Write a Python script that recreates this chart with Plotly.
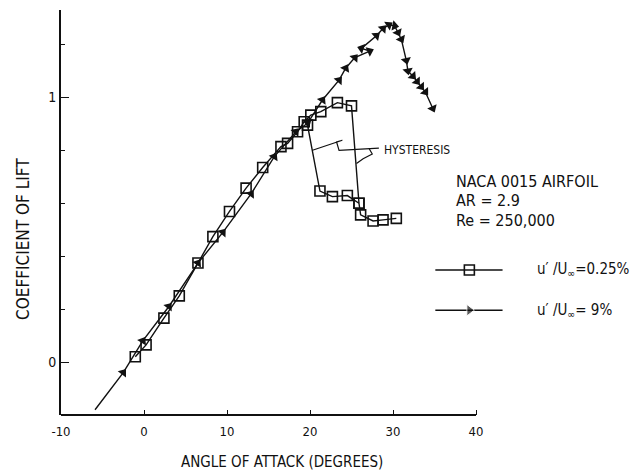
import plotly.graph_objects as go

# Lift curves, NACA 0015 airfoil, AR = 2.9, Re = 250,000
# Low-turbulence run (u'/U = 0.25 %): increasing angle, then the return branch after a gap
alpha_low = [-1.05, 0.25, 2.4, 4.25, 6.5, 8.3, 10.3, 12.3, 14.3, 16.5, 17.3, 18.5, 19.3,
             20.1, 21.3, 23.3, 25.0, 25.9, 26.1, 27.6, 28.8, 30.4,
             None, 25.9, 24.5, 22.7, 21.2, 19.7]
cl_low = [0.02, 0.065, 0.166, 0.25, 0.374, 0.474, 0.569, 0.657, 0.735, 0.814, 0.826, 0.87, 0.908,
          0.933, 0.946, 0.98, 0.968, 0.60, 0.556, 0.533, 0.537, 0.543,
          None, 0.60, 0.629, 0.625, 0.646, 0.895]

# High-turbulence run (u'/U = 9 %)
alpha_high = [-5.9, -2.5, -0.15, 3.0, 6.5, 9.5, 12.9, 15.7, 18.3, 19.7, 21.5, 23.5, 24.3,
              25.4, 27.2, 26.2, 28.0, 28.8, 29.5, 30.2, 30.6, 31.0, 31.6, 31.8, 32.4,
              32.9, 33.4, 33.9, 34.8]
cl_high = [-0.18, -0.04, 0.08, 0.21, 0.374, 0.49, 0.635, 0.776, 0.87, 0.902, 0.99, 1.065, 1.11,
           1.15, 1.175, 1.185, 1.233, 1.26, 1.274, 1.27, 1.245, 1.22, 1.14, 1.10, 1.08,
           1.06, 1.04, 1.02, 0.958]

x_ticks = [-10, 0, 10, 20, 30, 40]
x_tick_text = ["-10", "0", "10", "20", "30", "40"]
y_ticks = [0, 1]
y_tick_text = ["0", "1"]
y_minor_ticks = [-0.2, 0.2, 0.4, 0.6, 0.8, 1.2]

legend_labels = ["u\u2032 /U<sub>\u221e</sub>=0.25%", "u\u2032 /U<sub>\u221e</sub>= 9%"]
info_lines = ["NACA 0015 AIRFOIL", "AR = 2.9", "Re = 250,000"]

# layout geometry
W, H = 634, 473
ML, MR, MT, MB = 61, 10, 10, 58
PX_PER_DEG = 8.3
PX_PER_CL = 264.7
plot_w = W - ML - MR
plot_h = H - MT - MB
x_range = [-10, -10 + plot_w / PX_PER_DEG]
y_range = [-0.2, -0.2 + plot_h / PX_PER_CL]

FONT = "Liberation Sans Narrow, DejaVu Sans Condensed, Liberation Sans, Arial"
INK = "#111111"

fig = go.Figure()

fig.add_trace(go.Scatter(
    x=alpha_low, y=cl_low, mode="lines+markers",
    line=dict(color=INK, width=1.4),
    marker=dict(symbol="square-open", size=10, color=INK, line=dict(width=1.6)),
    showlegend=False, cliponaxis=False,
))
fig.add_trace(go.Scatter(
    x=alpha_high, y=cl_high, mode="lines+markers",
    line=dict(color=INK, width=1.4),
    marker=dict(symbol="triangle-up", size=9, color=INK, angleref="previous",
                line=dict(width=0)),
    showlegend=False, cliponaxis=False,
))

# legend samples drawn beside the curves
leg_x0, leg_x1, leg_mid = 35.1, 43.2, 39.2
leg_y = [0.348, 0.196]
fig.add_trace(go.Scatter(
    x=[leg_x0, leg_x1], y=[leg_y[0]] * 2, mode="lines",
    line=dict(color=INK, width=1.4), showlegend=False, hoverinfo="skip"))
fig.add_trace(go.Scatter(
    x=[leg_mid], y=[leg_y[0]], mode="markers",
    marker=dict(symbol="square-open", size=10, color=INK, line=dict(width=1.6)),
    showlegend=False, hoverinfo="skip"))
fig.add_trace(go.Scatter(
    x=[leg_x0, leg_mid, leg_x1], y=[leg_y[1]] * 3, mode="lines+markers",
    line=dict(color=INK, width=1.4),
    marker=dict(symbol="triangle-right", size=[0, 10, 0], color=INK),
    showlegend=False, hoverinfo="skip"))

annotations = []
for label, yv in zip(legend_labels, leg_y):
    annotations.append(dict(x=47.1, y=yv, xref="x", yref="y", text=label, showarrow=False,
                            xanchor="left", yanchor="middle",
                            font=dict(family=FONT, size=15, color=INK)))
for i, line in enumerate(info_lines):
    annotations.append(dict(x=37.4, y=0.684 - i * 0.074, xref="x", yref="y", text=line,
                            showarrow=False, xanchor="left", yanchor="middle",
                            font=dict(family=FONT, size=16, color=INK)))
annotations.append(dict(x=28.7, y=0.80, xref="x", yref="y", text="HYSTERESIS",
                        showarrow=False, xanchor="left", yanchor="middle",
                        font=dict(family=FONT, size=12, color=INK)))
annotations.append(dict(x=16.6, y=-0.116, xref="x", yref="paper",
                        text="ANGLE OF ATTACK (DEGREES)", showarrow=False,
                        xanchor="center", yanchor="middle",
                        font=dict(family=FONT, size=15, color=INK)))
annotations.append(dict(x=-0.0675, y=0.465, xref="paper", yref="y",
                        text="COEFFICIENT OF LIFT", showarrow=False, textangle=-90,
                        xanchor="center", yanchor="middle",
                        font=dict(family=FONT, size=17, color=INK)))

# hysteresis leader lines: a squiggle from the label to both jump lines
leader_left = "M 20.3,0.80 L 23.9,0.838 L 23.2,0.832 L 23.5,0.80 L 28.3,0.808"
leader_right = "M 27.1,0.808 L 27.5,0.786 L 26.4,0.768 L 25.6,0.75"
shapes = [
    dict(type="path", path=leader_left, xref="x", yref="y", line=dict(color=INK, width=1.2)),
    dict(type="path", path=leader_right, xref="x", yref="y", line=dict(color=INK, width=1.2)),
    # x axis line stops at 40 degrees
    dict(type="line", x0=-10, x1=40, y0=0, y1=0, xref="x", yref="paper",
         line=dict(color=INK, width=2)),
]

fig.update_layout(
    width=W, height=H,
    margin=dict(l=ML, r=MR, t=MT, b=MB, pad=0),
    paper_bgcolor="white", plot_bgcolor="white",
    annotations=annotations, shapes=shapes,
    font=dict(family=FONT, color=INK),
)
fig.update_xaxes(
    range=x_range, showgrid=False, zeroline=False, showline=False,
    tickmode="array", tickvals=x_ticks, ticktext=x_tick_text,
    ticks="inside", ticklen=5, tickwidth=1.2, tickcolor=INK,
    ticklabelstandoff=7,
    tickfont=dict(family=FONT, size=13, color=INK),
)
fig.update_yaxes(
    range=y_range, showgrid=False, zeroline=False, showline=True,
    linecolor=INK, linewidth=2,
    tickmode="array", tickvals=y_ticks, ticktext=y_tick_text,
    ticks="inside", ticklen=8, tickwidth=1.4, tickcolor=INK,
    minor=dict(tickmode="array", tickvals=y_minor_ticks, ticks="inside",
               ticklen=4, tickwidth=1.2, tickcolor=INK),
    tickfont=dict(family=FONT, size=14, color=INK),
)

fig.write_html("out.html", config={"displayModeBar": False})
